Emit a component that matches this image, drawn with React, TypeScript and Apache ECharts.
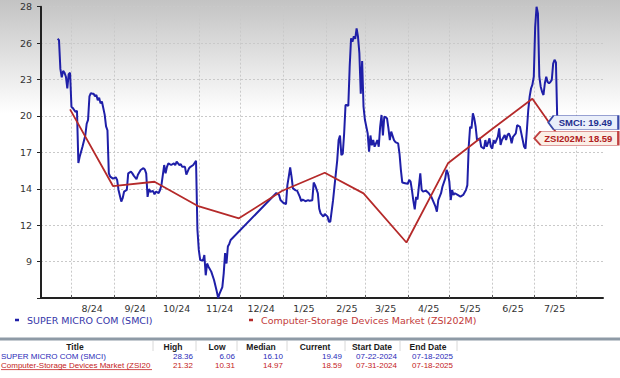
import React, { useEffect, useRef } from "react";
import * as echarts from "echarts";

// ---------- data ----------
const AXIS_START = "2024-07-10";
const AXIS_END = "2025-08-20";
const Y_MIN = 6.06;
const Y_MAX = 28.36;
const Y_STEPS = 8;

const smciPoints: [string, number][] = [
  ["2024-07-22", 25.9], ["2024-07-23", 25.8], ["2024-07-24", 23.6], ["2024-07-25", 22.95],
  ["2024-07-26", 23.45], ["2024-07-27", 23.3], ["2024-07-28", 23.0], ["2024-07-29", 22.1],
  ["2024-07-30", 23.2], ["2024-07-31", 23.3], ["2024-08-01", 20.7], ["2024-08-02", 20.6],
  ["2024-08-04", 20.3], ["2024-08-05", 20.4], ["2024-08-06", 16.4], ["2024-08-07", 16.9],
  ["2024-08-09", 17.65], ["2024-08-11", 18.5], ["2024-08-12", 19.4], ["2024-08-13", 19.7],
  ["2024-08-14", 21.5], ["2024-08-15", 21.75], ["2024-08-16", 21.7], ["2024-08-17", 21.7],
  ["2024-08-18", 21.5], ["2024-08-19", 21.6], ["2024-08-20", 21.2], ["2024-08-21", 21.4],
  ["2024-08-22", 20.96], ["2024-08-23", 21.1], ["2024-08-25", 20.1], ["2024-08-26", 19.2],
  ["2024-08-27", 18.9], ["2024-08-28", 15.6], ["2024-08-29", 15.35], ["2024-08-31", 15.2],
  ["2024-09-02", 15.3], ["2024-09-03", 15.1], ["2024-09-04", 14.33], ["2024-09-06", 13.44],
  ["2024-09-07", 13.7], ["2024-09-08", 14.2], ["2024-09-10", 14.33], ["2024-09-11", 15.6],
  ["2024-09-13", 15.73], ["2024-09-14", 15.6], ["2024-09-15", 15.43], ["2024-09-17", 15.15],
  ["2024-09-18", 15.5], ["2024-09-20", 15.86], ["2024-09-22", 16.0], ["2024-09-23", 15.9],
  ["2024-09-24", 15.6], ["2024-09-25", 13.8], ["2024-09-26", 14.4], ["2024-09-27", 14.2],
  ["2024-09-29", 14.25], ["2024-09-30", 14.0], ["2024-10-01", 14.2], ["2024-10-03", 14.1],
  ["2024-10-04", 14.33], ["2024-10-05", 14.7], ["2024-10-07", 16.24], ["2024-10-08", 15.6],
  ["2024-10-09", 16.1], ["2024-10-10", 16.37], ["2024-10-12", 16.24], ["2024-10-14", 16.37],
  ["2024-10-15", 16.24], ["2024-10-16", 16.5], ["2024-10-18", 16.24], ["2024-10-19", 16.3],
  ["2024-10-20", 16.1], ["2024-10-22", 16.1], ["2024-10-23", 15.5], ["2024-10-25", 16.0],
  ["2024-10-26", 16.1], ["2024-10-28", 16.24], ["2024-10-30", 16.57], ["2024-10-31", 11.3],
  ["2024-11-01", 9.74], ["2024-11-02", 8.97], ["2024-11-04", 8.92], ["2024-11-05", 9.35],
  ["2024-11-06", 7.8], ["2024-11-07", 8.7], ["2024-11-08", 8.46], ["2024-11-10", 8.08],
  ["2024-11-12", 7.44], ["2024-11-14", 6.55], ["2024-11-15", 6.06], ["2024-11-16", 6.4],
  ["2024-11-18", 6.9], ["2024-11-19", 7.95], ["2024-11-20", 9.5], ["2024-11-21", 8.7],
  ["2024-11-22", 10.0], ["2024-11-23", 10.2], ["2024-11-24", 10.5], ["2024-12-27", 14.1],
  ["2024-12-29", 13.95], ["2024-12-30", 13.56], ["2025-01-01", 13.35], ["2025-01-03", 13.25],
  ["2025-01-04", 14.7], ["2025-01-05", 15.35], ["2025-01-06", 16.05], ["2025-01-07", 15.35],
  ["2025-01-08", 14.45], ["2025-01-10", 14.3], ["2025-01-11", 14.28], ["2025-01-13", 13.8],
  ["2025-01-14", 13.47], ["2025-01-15", 13.6], ["2025-01-17", 13.47], ["2025-01-19", 13.55],
  ["2025-01-20", 13.5], ["2025-01-22", 13.55], ["2025-01-23", 14.9], ["2025-01-24", 14.7],
  ["2025-01-26", 14.08], ["2025-01-27", 12.9], ["2025-01-28", 12.54], ["2025-01-30", 12.29],
  ["2025-01-31", 12.5], ["2025-02-02", 12.29], ["2025-02-03", 11.9], ["2025-02-04", 11.9],
  ["2025-02-06", 13.55], ["2025-02-07", 14.58], ["2025-02-09", 16.6], ["2025-02-10", 18.15],
  ["2025-02-11", 18.5], ["2025-02-12", 17.0], ["2025-02-13", 17.1], ["2025-02-14", 18.66],
  ["2025-02-15", 20.83], ["2025-02-16", 20.83], ["2025-02-17", 20.76], ["2025-02-18", 23.77],
  ["2025-02-19", 25.94], ["2025-02-20", 25.68], ["2025-02-21", 26.1], ["2025-02-22", 25.9],
  ["2025-02-23", 26.7], ["2025-02-24", 26.06], ["2025-02-25", 24.8], ["2025-02-26", 21.7],
  ["2025-02-27", 24.2], ["2025-02-28", 20.7], ["2025-03-01", 19.7], ["2025-03-03", 18.66],
  ["2025-03-04", 17.26], ["2025-03-05", 18.5], ["2025-03-06", 17.75], ["2025-03-07", 18.15],
  ["2025-03-08", 17.64], ["2025-03-10", 18.15], ["2025-03-11", 17.64], ["2025-03-12", 19.17],
  ["2025-03-13", 20.07], ["2025-03-14", 18.5], ["2025-03-15", 19.94], ["2025-03-16", 19.9],
  ["2025-03-17", 19.8], ["2025-03-18", 19.05], ["2025-03-19", 18.15], ["2025-03-20", 18.8],
  ["2025-03-22", 18.15], ["2025-03-23", 18.0], ["2025-03-25", 17.9], ["2025-03-26", 17.1],
  ["2025-03-27", 15.85], ["2025-03-28", 14.9], ["2025-03-30", 14.85], ["2025-04-01", 14.8],
  ["2025-04-02", 15.1], ["2025-04-03", 14.97], ["2025-04-04", 14.3], ["2025-04-05", 13.5],
  ["2025-04-06", 12.85], ["2025-04-07", 13.8], ["2025-04-08", 13.6], ["2025-04-10", 15.6],
  ["2025-04-11", 14.33], ["2025-04-12", 14.2], ["2025-04-14", 14.28], ["2025-04-16", 14.1],
  ["2025-04-18", 13.8], ["2025-04-20", 13.3], ["2025-04-21", 13.05], ["2025-04-22", 12.67],
  ["2025-04-23", 13.56], ["2025-04-25", 14.08], ["2025-04-26", 14.58], ["2025-04-28", 15.2],
  ["2025-04-29", 15.86], ["2025-04-30", 15.6], ["2025-05-01", 14.97], ["2025-05-02", 13.56],
  ["2025-05-03", 14.33], ["2025-05-04", 13.95], ["2025-05-05", 14.08], ["2025-05-07", 13.95],
  ["2025-05-09", 13.82], ["2025-05-11", 13.95], ["2025-05-13", 14.33], ["2025-05-14", 14.7],
  ["2025-05-15", 17.65], ["2025-05-16", 19.17], ["2025-05-17", 19.05], ["2025-05-18", 20.2],
  ["2025-05-19", 19.8], ["2025-05-20", 19.17], ["2025-05-21", 18.15], ["2025-05-23", 18.28],
  ["2025-05-24", 17.64], ["2025-05-26", 17.5], ["2025-05-27", 18.15], ["2025-05-28", 17.64],
  ["2025-05-30", 18.28], ["2025-05-31", 17.64], ["2025-06-01", 17.5], ["2025-06-02", 18.15],
  ["2025-06-03", 17.9], ["2025-06-05", 18.4], ["2025-06-06", 19.05], ["2025-06-07", 17.77],
  ["2025-06-08", 18.15], ["2025-06-10", 18.54], ["2025-06-11", 18.15], ["2025-06-12", 18.54],
  ["2025-06-13", 18.66], ["2025-06-14", 18.4], ["2025-06-15", 17.9], ["2025-06-16", 18.4],
  ["2025-06-18", 18.66], ["2025-06-19", 19.3], ["2025-06-21", 19.17], ["2025-06-22", 18.66],
  ["2025-06-24", 17.64], ["2025-06-25", 17.5], ["2025-06-26", 18.9], ["2025-06-27", 20.45],
  ["2025-06-28", 21.47], ["2025-06-29", 22.1], ["2025-06-30", 22.4], ["2025-07-01", 23.0],
  ["2025-07-02", 26.8], ["2025-07-03", 28.36], ["2025-07-04", 27.85], ["2025-07-05", 23.0],
  ["2025-07-06", 22.24], ["2025-07-07", 21.85], ["2025-07-08", 21.6], ["2025-07-09", 22.5],
  ["2025-07-10", 23.0], ["2025-07-11", 22.6], ["2025-07-12", 22.5], ["2025-07-13", 22.6],
  ["2025-07-14", 22.75], ["2025-07-15", 24.0], ["2025-07-16", 24.3], ["2025-07-17", 24.1],
  ["2025-07-18", 19.49],
];

const zsiPoints: [string, number][] = [
  ["2024-07-31", 20.5], ["2024-08-31", 14.63], ["2024-09-30", 14.96], ["2024-10-31", 13.12],
  ["2024-11-30", 12.16], ["2024-12-31", 14.25], ["2025-01-31", 15.65], ["2025-02-28", 14.07],
  ["2025-03-31", 10.31], ["2025-04-30", 16.37], ["2025-05-31", 18.92], ["2025-06-30", 21.32],
  ["2025-07-18", 18.59],
];

const seriesNames = ["SUPER MICRO COM (SMCI)", "Computer-Storage Devices Market (ZSI202M)"];
const tagNames = ["SMCI", "ZSI202M"];
const tableHeaders = ["Title", "High", "Low", "Median", "Current", "Start Date", "End Date"];
const tableRows: string[][] = [
  ["SUPER MICRO COM (SMCI)", "28.36", "6.06", "16.10", "19.49", "07-22-2024", "07-18-2025"],
  ["Computer-Storage Devices Market (ZSI202M)", "21.32", "10.31", "14.97", "18.59", "07-31-2024", "07-18-2025"],
];

// ---------- styling ----------
const BLUE = "#1f1fa8";
const RED = "#b52a2a";
const AXIS_FONT = "DejaVu Sans";
const TABLE_FONT = "Liberation Sans";
const headerCenters = [75, 173, 217, 261, 315, 372, 428];
const valueRights = [0, 193, 235, 283, 342, 397, 453];
const colSeparators = [153, 196, 237, 287, 345, 400, 457];
const rowColors = ["#2a2ab8", "#c42222"];

function buildDays(start: string, end: string): string[] {
  const out: string[] = [];
  let t = Date.parse(start + "T00:00:00Z");
  const e = Date.parse(end + "T00:00:00Z");
  while (t <= e) {
    out.push(new Date(t).toISOString().slice(0, 10));
    t += 86400000;
  }
  return out;
}

function buildTable(): any[] {
  const els: any[] = [];
  els.push({ type: "rect", silent: true, z: 1, shape: { x: 0, y: 337, width: 620, height: 41 }, style: { fill: "#ffffff" } });
  els.push({ type: "rect", silent: true, z: 2, shape: { x: 0, y: 337.5, width: 620, height: 3 }, style: { fill: "#8e9aa6" } });
  colSeparators.forEach((x) => {
    els.push({ type: "line", silent: true, z: 2, shape: { x1: x, y1: 341, x2: x, y2: 351 }, style: { stroke: "#d8d8d8", lineWidth: 1 } });
  });
  tableHeaders.forEach((h, i) => {
    els.push({
      type: "text", silent: true, z: 3,
      style: { text: h, x: headerCenters[i], y: 346.5, fill: "#1a1a1a", font: `bold 8.5px "${TABLE_FONT}"`, align: "center", textAlign: "center", verticalAlign: "middle", textVerticalAlign: "middle" },
    });
  });
  tableRows.forEach((row, r) => {
    const y = 356 + r * 9.5;
    row.forEach((cell, c) => {
      if (c === 0) {
        els.push({
          type: "text", silent: true, z: 3,
          style: { text: cell, x: 1, y, fill: rowColors[r], font: `8px "${TABLE_FONT}"`, align: "left", textAlign: "left", verticalAlign: "middle", textVerticalAlign: "middle", width: 151, overflow: "truncate", ellipsis: "" },
        });
      } else {
        els.push({
          type: "text", silent: true, z: 3,
          style: { text: cell, x: valueRights[c], y, fill: rowColors[r], font: `8px "${TABLE_FONT}"`, align: "right", textAlign: "right", verticalAlign: "middle", textVerticalAlign: "middle" },
        });
      }
    });
  });
  els.push({ type: "line", silent: true, z: 3, shape: { x1: 1, y1: 369.6, x2: 152, y2: 369.6 }, style: { stroke: rowColors[1], lineWidth: 0.8 } });
  return els;
}

function tagPoint(point: [string, number], name: string, w: number, offset: [number, number], fill: string, border: string, color: string) {
  return {
    symbol: "path://M0,7L6,0L80,0L80,14L6,14Z",
    symbolSize: [w, 14],
    symbolKeepAspect: false,
    symbolOffset: offset,
    silent: true,
    data: [{ coord: [point[0], point[1]] }],
    itemStyle: { color: fill, borderColor: border, borderWidth: 1 },
    label: {
      show: true, position: "inside", offset: [2, 0],
      formatter: () => `${name}: ${point[1].toFixed(2)}`,
      color, fontSize: 9.5, fontWeight: "bold", fontFamily: TABLE_FONT,
    },
  };
}

export default function App() {
  const ref = useRef<HTMLDivElement>(null);
  useEffect(() => {
    document.body.style.margin = "0";
    if (!ref.current) return;
    const chart = echarts.init(ref.current, undefined, { renderer: "svg" });
    const days = buildDays(AXIS_START, AXIS_END);
    const isMonthStart = (_i: number, v: string) => v.slice(8) === "01";
    const step = (Y_MAX - Y_MIN) / Y_STEPS;
    const lastSmci = smciPoints[smciPoints.length - 1];
    const lastZsi = zsiPoints[zsiPoints.length - 1];

    chart.setOption({
      animation: false,
      graphic: [
        {
          type: "rect", silent: true, z: -100, shape: { x: 0, y: 0, width: 620, height: 378 },
          style: {
            fill: new echarts.graphic.LinearGradient(0, 0, 0, 1, [
              { offset: 0, color: "#c3c3c3" },
              { offset: 0.3, color: "#ffffff" },
              { offset: 1, color: "#ffffff" },
            ]),
          },
        },
        ...buildTable(),
      ],
      grid: { left: 41, right: 17, top: 6.7, bottom: 80, containLabel: false },
      legend: [
        {
          left: 15, top: 315, padding: 0, icon: "rect", itemWidth: 4, itemHeight: 2.5, itemGap: 0,
          data: [{ name: seriesNames[0], textStyle: { color: "#3434a8" } }],
          textStyle: { fontFamily: AXIS_FONT, fontSize: 9.5, padding: [0, 0, 0, 3] },
          selectedMode: false,
        },
        {
          left: 249, top: 315, padding: 0, icon: "rect", itemWidth: 4, itemHeight: 2.5, itemGap: 0,
          data: [{ name: seriesNames[1], textStyle: { color: "#c23a3a" } }],
          textStyle: { fontFamily: AXIS_FONT, fontSize: 9.5, padding: [0, 0, 0, 3] },
          selectedMode: false,
        },
      ],
      xAxis: {
        type: "category",
        data: days,
        boundaryGap: false,
        axisLine: { lineStyle: { color: "#222", width: 2 } },
        axisTick: { show: true, inside: true, length: 3, interval: isMonthStart, lineStyle: { color: "#555" } },
        axisLabel: {
          interval: (_i: number, v: string) => v.slice(8) === "16" && v >= "2024-08-01" && v <= "2025-07-31",
          formatter: (v: string) => `${parseInt(v.slice(5, 7), 10)}/${v.slice(2, 4)}`,
          color: "#333", fontFamily: AXIS_FONT, fontSize: 9.5, margin: 5,
        },
        splitLine: { show: true, interval: isMonthStart, lineStyle: { color: "#c9c9c9", type: [2, 2], width: 1 } },
      },
      yAxis: {
        type: "value",
        min: Y_MIN, max: Y_MAX, interval: step,
        axisLine: { show: true, lineStyle: { color: "#222", width: 2 } },
        axisTick: { show: true, length: 4, lineStyle: { color: "#222" } },
        axisLabel: {
          formatter: (v: number) => (v < Y_MIN + 0.5 ? "" : String(Math.round(v))),
          color: "#333", fontFamily: AXIS_FONT, fontSize: 9.5, margin: 9,
        },
        splitLine: { show: true, lineStyle: { color: "#c9c9c9", type: [2, 2], width: 1 } },
      },
      series: [
        {
          name: seriesNames[0], type: "line", data: smciPoints, showSymbol: false, symbol: "none",
          lineStyle: { color: BLUE, width: 2 }, itemStyle: { color: BLUE }, z: 3,
          markPoint: tagPoint(lastSmci, tagNames[0], 70, [26, 0], "#eaeffa", "#3a4aa8", "#1f2f8f"),
        },
        {
          name: seriesNames[1], type: "line", data: zsiPoints, showSymbol: false, symbol: "none",
          lineStyle: { color: RED, width: 1.8 }, itemStyle: { color: RED }, z: 4,
          markPoint: tagPoint(lastZsi, tagNames[1], 84, [19, 4], "#fbefe6", "#c04040", "#b02020"),
        },
      ],
    });
    return () => chart.dispose();
  }, []);
  return <div ref={ref} style={{ width: 620, height: 378 }} />;
}
